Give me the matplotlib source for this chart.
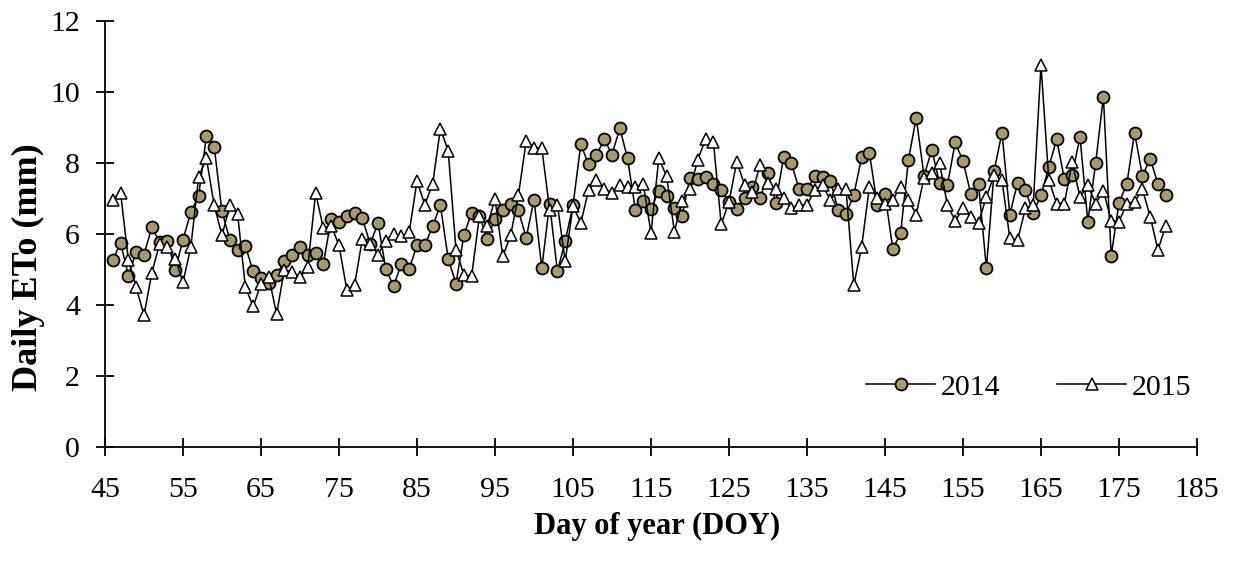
import matplotlib
matplotlib.use("Agg")
import matplotlib.pyplot as plt

plt.rcParams["font.family"] = ["Liberation Serif", "DejaVu Serif"]

# Day of year
doy = list(range(46, 182))

# Daily reference evapotranspiration (mm), 2014 season
eto_2014 = [
    5.27, 5.74, 4.82, 5.49, 5.41, 6.18, 5.77, 5.79, 4.97, 5.83,   # 46-55
    6.61, 7.06, 8.75, 8.45, 6.63, 5.83, 5.53, 5.65, 4.94, 4.75,   # 56-65
    4.61, 4.85, 5.22, 5.41, 5.62, 5.39, 5.45, 5.16, 6.42, 6.33,   # 66-75
    6.50, 6.59, 6.43, 5.71, 6.30, 5.01, 4.52, 5.16, 5.01, 5.67,   # 76-85
    5.67, 6.21, 6.80, 5.30, 4.59, 5.95, 6.59, 6.51, 5.85, 6.42,   # 86-95
    6.68, 6.85, 6.66, 5.88, 6.96, 5.03, 6.85, 4.94, 5.79, 6.80,   # 96-105
    8.52, 7.95, 8.21, 8.66, 8.23, 8.97, 8.12, 6.66, 6.92, 6.70,   # 106-115
    7.20, 7.05, 6.71, 6.51, 7.58, 7.54, 7.59, 7.40, 7.23, 6.88,   # 116-125
    6.69, 7.00, 7.32, 7.00, 7.70, 6.87, 8.15, 7.98, 7.25, 7.25,   # 126-135
    7.63, 7.61, 7.49, 6.67, 6.55, 7.09, 8.15, 8.28, 6.82, 7.12,   # 136-145
    5.57, 6.01, 8.08, 9.27, 7.63, 8.36, 7.42, 7.37, 8.57, 8.05,   # 146-155
    7.12, 7.39, 5.02, 7.78, 8.85, 6.54, 7.44, 7.23, 6.59, 7.09,   # 156-165
    7.87, 8.66, 7.54, 7.65, 8.73, 6.34, 7.98, 9.86, 5.38, 6.87,   # 166-175
    7.40, 8.85, 7.63, 8.11, 7.40, 7.09,                           # 176-181
]

# Daily reference evapotranspiration (mm), 2015 season
eto_2015 = [
    6.96, 7.15, 5.25, 4.49, 3.70, 4.89, 5.72, 5.63, 5.30, 4.63,   # 46-55
    5.62, 7.59, 8.12, 6.80, 5.95, 6.80, 6.56, 4.49, 3.95, 4.59,   # 56-65
    4.78, 3.74, 4.99, 4.92, 4.77, 5.06, 7.15, 6.15, 6.23, 5.67,   # 66-75
    4.42, 4.56, 5.86, 5.71, 5.41, 5.79, 6.00, 5.93, 6.04, 7.48,   # 76-85
    6.82, 7.39, 8.96, 8.33, 5.55, 4.85, 4.80, 6.49, 6.21, 6.98,   # 86-95
    5.36, 5.95, 7.08, 8.61, 8.42, 8.42, 6.68, 6.82, 5.22, 6.78,   # 96-105
    6.30, 7.23, 7.51, 7.26, 7.15, 7.36, 7.32, 7.32, 7.41, 6.02,   # 106-115
    8.12, 7.62, 6.06, 6.93, 7.25, 8.09, 8.66, 8.59, 6.26, 6.90,   # 116-125
    8.03, 7.37, 7.18, 7.93, 7.44, 7.25, 7.00, 6.72, 6.81, 6.81,   # 126-135
    7.23, 7.37, 6.95, 7.25, 7.25, 4.55, 5.62, 7.32, 7.00, 6.85,   # 136-145
    6.95, 7.32, 6.95, 6.54, 7.58, 7.70, 7.98, 6.81, 6.36, 6.71,   # 146-155
    6.48, 6.31, 7.04, 7.65, 7.51, 5.87, 5.82, 6.71, 6.81, 10.75,  # 156-165
    7.51, 6.85, 6.85, 8.03, 7.02, 7.37, 6.85, 7.21, 6.37, 6.34,   # 166-175
    6.85, 6.90, 7.25, 6.48, 5.54, 6.23,                           # 176-181
]

x_ticks = list(range(45, 186, 10))
y_ticks = list(range(0, 13, 2))

fig = plt.figure(figsize=(12.38, 5.64), dpi=100)
ax = fig.add_axes([105 / 1238, 1 - 446.7 / 564, 1092 / 1238, 426 / 564])

ax.plot(doy, eto_2014, color="black", linewidth=1.1, marker="o",
        markersize=8.6, markerfacecolor="#a69a6c", markeredgecolor="black",
        markeredgewidth=1.3, label="2014", zorder=3)
ax.plot(doy, eto_2015, color="black", linewidth=1.1, marker="^",
        markersize=9.2, markerfacecolor="white", markeredgecolor="black",
        markeredgewidth=1.1, label="2015", zorder=4)

ax.set_xlim(45, 185)
ax.set_ylim(0, 12)
ax.set_xticks(x_ticks)
ax.set_yticks(y_ticks)

for side in ("top", "right"):
    ax.spines[side].set_visible(False)
for side in ("left", "bottom"):
    ax.spines[side].set_linewidth(1.3)
    ax.spines[side].set_color("black")

ax.tick_params(axis="both", direction="inout", length=13, width=1.3,
               labelsize=21.5, colors="black")
ax.tick_params(axis="x", pad=15)
ax.tick_params(axis="y", pad=11.5)

ax.set_xlabel("Day of year (DOY)", fontsize=22, fontweight="bold", va="top")
ax.xaxis.set_label_coords(0.506, -0.152)
ax.set_ylabel("Daily ETo (mm)", fontsize=26, fontweight="bold")
ax.yaxis.set_label_coords(-0.055, 0.422)

leg = ax.legend(loc="center", bbox_to_anchor=(0.846, 0.140), ncol=2,
                frameon=False, fontsize=21.5, handlelength=2.3,
                handletextpad=0.2, columnspacing=1.9)

fig.savefig("out.png", dpi=100)
